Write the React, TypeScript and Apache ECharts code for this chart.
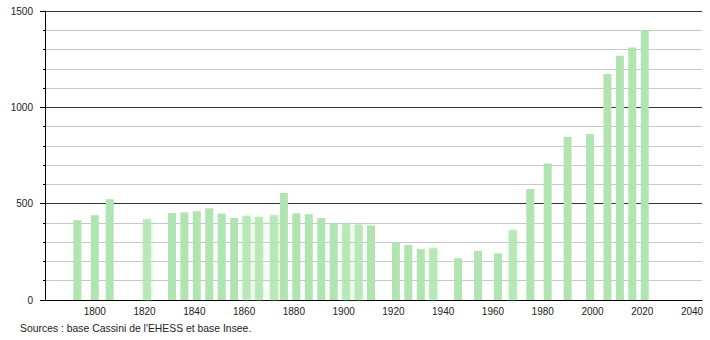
import React, { useEffect, useRef } from "react";
import * as echarts from "echarts";

const years = [1793, 1800, 1806, 1821, 1831, 1836, 1841, 1846, 1851, 1856, 1861, 1866, 1872, 1876, 1881, 1886, 1891, 1896, 1901, 1906, 1911, 1921, 1926, 1931, 1936, 1946, 1954, 1962, 1968, 1975, 1982, 1990, 1999, 2006, 2011, 2016, 2021];
const population = [414, 440, 523, 419, 452, 456, 461, 476, 449, 426, 437, 431, 440, 556, 450, 445, 425, 397, 397, 392, 387, 300, 285, 264, 269, 217, 255, 242, 363, 576, 709, 846, 861, 1173, 1268, 1311, 1400];
const blurredYears = [1821, 1861, 1866, 1872, 1901, 1906, 1936, 1968];
const sourceText = "Sources : base Cassini de l'EHESS et base Insee.";

export default function App() {
  const ref = useRef<HTMLDivElement>(null);
  useEffect(() => {
    if (!ref.current) return;
    const chart = echarts.init(ref.current, undefined, { renderer: "svg" });
    const barColor = "#b0e4b0";
    chart.setOption({
      animation: false,
      textStyle: { fontFamily: "Liberation Sans, Arial, sans-serif" },
      grid: { left: 45, right: 8, top: 11, bottom: 40 },
      xAxis: {
        type: "value",
        min: 1780,
        max: 2044,
        interval: 20,
        axisLine: { show: true, onZero: false, lineStyle: { color: "#000", width: 1 } },
        axisTick: { show: false },
        splitLine: { show: false },
        axisLabel: {
          color: "#222",
          fontSize: 10,
          margin: 6,
          showMinLabel: false,
          showMaxLabel: false,
          formatter: (v: number) => (v % 20 === 0 && v > 1780 ? String(v) : ""),
        },
      },
      yAxis: {
        type: "value",
        min: 0,
        max: 1500,
        interval: 500,
        axisLine: { show: true, lineStyle: { color: "#000", width: 1 } },
        axisTick: { show: true, length: 5, lineStyle: { color: "#000" } },
        minorTick: { show: true, splitNumber: 5, length: 2, lineStyle: { color: "#000" } },
        splitLine: { show: true, lineStyle: { color: "#333", width: 1 } },
        minorSplitLine: { show: true, lineStyle: { color: "#c8c8c8", width: 1 } },
        axisLabel: { color: "#222", fontSize: 10, margin: 12, formatter: (v: number) => String(v) },
      },
      series: [
        {
          type: "bar",
          barWidth: 8,
          data: years.map((y, i) => {
            const blurred = blurredYears.includes(y);
            return {
              value: [y, population[i]],
              itemStyle: blurred
                ? { color: "rgba(176,228,176,0.75)", shadowBlur: 4, shadowColor: "rgba(176,228,176,0.9)" }
                : { color: barColor },
            };
          }),
        },
      ],
      graphic: [
        {
          type: "text",
          left: 20,
          top: 323,
          style: { text: sourceText, fill: "#222", fontSize: 10.4, fontFamily: "Liberation Sans, Arial, sans-serif" },
        },
      ],
    });
    return () => chart.dispose();
  }, []);
  return <div ref={ref} style={{ width: 710, height: 340, position: "absolute", left: 0, top: 0 }} />;
}
